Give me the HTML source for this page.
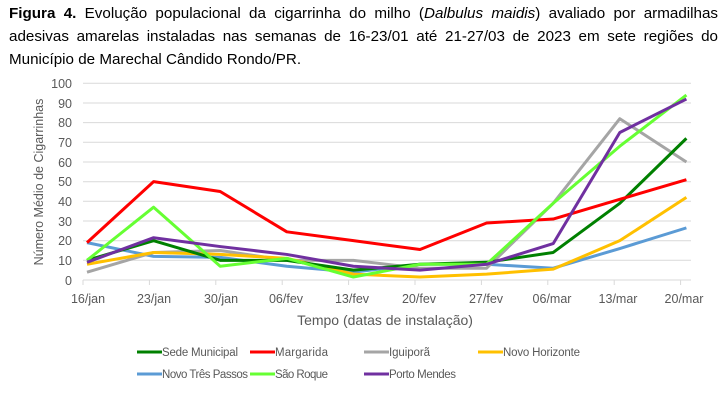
<!DOCTYPE html>
<html><head><meta charset="utf-8"><style>
body{margin:0;width:727px;height:403px;background:#fff;overflow:hidden;font-family:"Liberation Sans",sans-serif}
.t{position:absolute;left:9px;top:2px;width:709px;font-size:15.2px;line-height:23px;text-align:justify;text-align-last:left;color:#000}
svg{position:absolute;left:0;top:0}
</style></head><body>
<div class="t"><b>Figura 4.</b> Evolução populacional da cigarrinha do milho (<i>Dalbulus maidis</i>) avaliado por armadilhas adesivas amarelas instaladas nas semanas de 16-23/01 até 21-27/03 de 2023 em sete regiões do Município de Marechal Cândido Rondo/PR.</div>
<svg width="727" height="403" font-family="Liberation Sans, sans-serif" fill="#595959">
<g stroke="#d9d9d9" stroke-width="1">
<line x1="83" x2="691" y1="83.3" y2="83.3"/><line x1="83" x2="691" y1="103" y2="103"/><line x1="83" x2="691" y1="122.6" y2="122.6"/><line x1="83" x2="691" y1="142.3" y2="142.3"/><line x1="83" x2="691" y1="162" y2="162"/><line x1="83" x2="691" y1="181.7" y2="181.7"/><line x1="83" x2="691" y1="201.3" y2="201.3"/><line x1="83" x2="691" y1="221" y2="221"/><line x1="83" x2="691" y1="240.7" y2="240.7"/><line x1="83" x2="691" y1="260.3" y2="260.3"/><line x1="83" x2="691" y1="280" y2="280"/>
</g>
<g stroke="#d9d9d9"><line x1="83" x2="83" y1="280" y2="285"/><line x1="149.4" x2="149.4" y1="280" y2="285"/><line x1="215.8" x2="215.8" y1="280" y2="285"/><line x1="282.2" x2="282.2" y1="280" y2="285"/><line x1="348.6" x2="348.6" y1="280" y2="285"/><line x1="415" x2="415" y1="280" y2="285"/><line x1="481.4" x2="481.4" y1="280" y2="285"/><line x1="547.8" x2="547.8" y1="280" y2="285"/><line x1="614.2" x2="614.2" y1="280" y2="285"/><line x1="680.6" x2="680.6" y1="280" y2="285"/></g>
<g font-size="12.5" text-anchor="end">
<text x="72" y="88">100</text><text x="72" y="108">90</text><text x="72" y="127">80</text><text x="72" y="147">70</text><text x="72" y="167">60</text><text x="72" y="186">50</text><text x="72" y="206">40</text><text x="72" y="226">30</text><text x="72" y="245">20</text><text x="72" y="265">10</text><text x="72" y="285">0</text>
</g>
<g font-size="12.5" text-anchor="middle">
<text x="88" y="303">16/jan</text><text x="154" y="303">23/jan</text><text x="221" y="303">30/jan</text><text x="286" y="303">06/fev</text><text x="352" y="303">13/fev</text><text x="419" y="303">20/fev</text><text x="486" y="303">27/fev</text><text x="552" y="303">06/mar</text><text x="618" y="303">13/mar</text><text x="684" y="303">20/mar</text>
</g>
<text x="385" y="325" font-size="14" text-anchor="middle">Tempo (datas de instalação)</text>
<text transform="translate(43,182) rotate(-90)" font-size="12.5" text-anchor="middle">Número Médio de Cigarrinhas</text>
<g transform="translate(87,280) scale(66.6,-1.967)" fill="none" stroke-width="3" stroke-linejoin="round">
<polyline vector-effect="non-scaling-stroke" stroke="#5b9bd5" points="0,19 1,12 2,11.5 3,7 4,4 5,8 6,8 7,6 8,16 9,26.5"/>
<polyline vector-effect="non-scaling-stroke" stroke="#a5a5a5" points="0,4 1,14 2,15 3,10 4,10 5,6 6,6 7,39 8,82 9,60"/>
<polyline vector-effect="non-scaling-stroke" stroke="#ffc000" points="0,8 1,14 2,13 3,11 4,3 5,1.5 6,3 7,5.5 8,20 9,42"/>
<polyline vector-effect="non-scaling-stroke" stroke="#008000" points="0,10 1,20 2,10 3,10 4,5 5,8 6,9 7,14 8,39 9,72"/>
<polyline vector-effect="non-scaling-stroke" stroke="#ff0000" points="0,19 1,50 2,45 3,24.5 4,20 5,15.5 6,29 7,31 8,41 9,51"/>
<polyline vector-effect="non-scaling-stroke" stroke="#66ff33" points="0,10 1,37 2,7 3,11 4,1.5 5,8 6,8 7,39 8,68 9,94"/>
<polyline vector-effect="non-scaling-stroke" stroke="#7030a0" points="0,9 1,21.5 2,17 3,13 4,7 5,5 6,8 7,18.5 8,75 9,92"/>
</g>
<g stroke-width="3">
<line x1="137" x2="162" y1="352" y2="352" stroke="#008000"/>
<line x1="250" x2="275" y1="352" y2="352" stroke="#ff0000"/>
<line x1="364" x2="389" y1="352" y2="352" stroke="#a5a5a5"/>
<line x1="478" x2="503" y1="352" y2="352" stroke="#ffc000"/>
<line x1="137" x2="162" y1="374" y2="374" stroke="#5b9bd5"/>
<line x1="250" x2="275" y1="374" y2="374" stroke="#66ff33"/>
<line x1="364" x2="389" y1="374" y2="374" stroke="#7030a0"/>
</g>
<g font-size="11.5">
<text x="162" y="356" textLength="76">Sede Municipal</text><text x="275" y="356" textLength="53">Margarida</text><text x="389" y="356" textLength="41">Iguiporã</text><text x="503" y="356" textLength="77">Novo Horizonte</text>
<text x="162" y="378" textLength="86">Novo Três Passos</text><text x="275" y="378" textLength="53">São Roque</text><text x="389" y="378" textLength="67">Porto Mendes</text>
</g>
</svg>
</body></html>
